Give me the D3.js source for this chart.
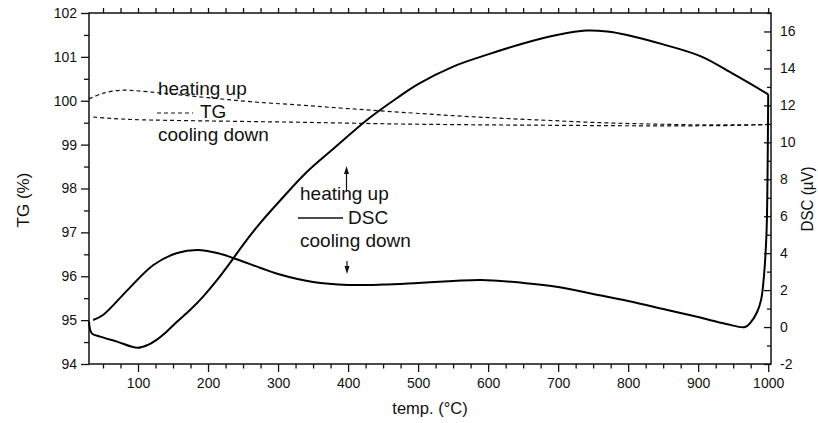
<!DOCTYPE html>
<html>
<head>
<meta charset="utf-8">
<script src="https://cdn.jsdelivr.net/npm/d3@7"></script>
<style>
  html, body { margin: 0; padding: 0; background: #fff; }
  svg { display: block; font-family: "Liberation Sans", Arial, sans-serif; }
  .tick text { font-size: 14px; fill: #111; }
  .tick line { stroke: #111; stroke-width: 1.3; }
</style>
</head>
<body>
<svg id="chart" width="818" height="423"></svg>
<script>
// Temperature axis (°C)
const tempDomain = [30, 1004];
const tempMajorTicks = [100, 200, 300, 400, 500, 600, 700, 800, 900, 1000];
// TG (%) left axis
const tgDomain = [94, 102];
const tgTicks = [94, 95, 96, 97, 98, 99, 100, 101, 102];
// DSC (µV) right axis
const dscDomain = [-2, 17];
const dscTicks = [-2, 0, 2, 4, 6, 8, 10, 12, 14, 16];

// TG, heating up
const tgHeatTemp = [30, 50, 75, 96, 130, 200, 260, 332, 400, 474, 550, 620, 689, 760, 831, 900, 960, 1000];
const tgHeatVal  = [100.04, 100.17, 100.24, 100.23, 100.18, 100.07, 99.98, 99.9, 99.82, 99.74, 99.66, 99.6, 99.55, 99.5, 99.47, 99.45, 99.45, 99.46];
// TG, cooling down
const tgCoolTemp = [36, 60, 96, 200, 332, 474, 600, 700, 800, 904, 960, 1000];
const tgCoolVal  = [99.63, 99.6, 99.57, 99.54, 99.51, 99.47, 99.45, 99.44, 99.43, 99.43, 99.44, 99.46];

// DSC, heating up
const dscHeatTemp = [30, 34, 46, 70, 99, 115, 127, 140, 156, 175, 193, 213, 232, 250, 275, 303, 340, 379, 430, 470, 500, 550, 600, 650, 700, 740, 770, 800, 850, 904, 950, 1000];
const dscHeatVal  = [0.3, -0.34, -0.52, -0.79, -1.12, -0.95, -0.68, -0.28, 0.3, 0.95, 1.65, 2.55, 3.5, 4.45, 5.65, 6.85, 8.35, 9.65, 11.3, 12.4, 13.15, 14.1, 14.76, 15.35, 15.82, 16.05, 16.0, 15.8, 15.3, 14.65, 13.7, 12.6];
// DSC, cooling down
const dscCoolTemp = [36, 50, 85, 122, 156, 185, 213, 236, 275, 300, 350, 400, 450, 500, 550, 590, 650, 700, 750, 800, 850, 900, 940, 967, 975, 984, 990, 994, 997.5, 999, 1000];
const dscCoolVal  = [0.38, 0.65, 2.0, 3.36, 4.01, 4.17, 4.01, 3.74, 3.2, 2.87, 2.44, 2.28, 2.3, 2.39, 2.49, 2.55, 2.39, 2.17, 1.79, 1.41, 0.98, 0.54, 0.17, 0.0, 0.25, 0.8, 1.5, 2.8, 5.0, 8.0, 12.6];

const svg = d3.select("#chart");
const plotLeft = 89, plotRight = 771, plotTop = 13, plotBottom = 364;

const x = d3.scaleLinear().domain(tempDomain).range([plotLeft, plotRight]);
const yTG = d3.scaleLinear().domain(tgDomain).range([plotBottom, plotTop]);
const yDSC = d3.scaleLinear().domain(dscDomain).range([plotBottom, plotTop]);

const minorTemp = d3.range(50, 1001, 25).filter(t => t % 100 !== 0);
const allTemp = d3.range(50, 1001, 25);
const tgMinor = d3.range(94.5, 102, 1);
const dscMinor = d3.range(-1, 17.5, 2);
const plain = d => String(d);

function clean(g) { g.select(".domain").remove(); }

// bottom axis
svg.append("g").attr("transform", `translate(0,${plotBottom})`)
  .call(d3.axisBottom(x).tickValues(tempMajorTicks).tickSize(8).tickPadding(6).tickFormat(plain))
  .call(clean);
svg.append("g").attr("transform", `translate(0,${plotBottom})`)
  .call(d3.axisBottom(x).tickValues(minorTemp).tickSize(4.5).tickFormat(""))
  .call(clean);
// top axis (ticks only)
svg.append("g").attr("transform", `translate(0,${plotTop})`)
  .call(d3.axisTop(x).tickValues(allTemp).tickSize(5).tickFormat(""))
  .call(clean);
// left axis
svg.append("g").attr("transform", `translate(${plotLeft},0)`)
  .call(d3.axisLeft(yTG).tickValues(tgTicks).tickSize(8).tickPadding(4).tickFormat(plain))
  .call(clean);
svg.append("g").attr("transform", `translate(${plotLeft},0)`)
  .call(d3.axisLeft(yTG).tickValues(tgMinor).tickSize(5).tickFormat(""))
  .call(clean);
// right axis, ticks pointing inward
svg.append("g").attr("transform", `translate(${plotRight},0)`)
  .call(d3.axisRight(yDSC).tickValues(dscTicks).tickSize(-7).tickPadding(9).tickFormat(plain))
  .call(clean);
svg.append("g").attr("transform", `translate(${plotRight},0)`)
  .call(d3.axisRight(yDSC).tickValues(dscMinor).tickSize(-4).tickFormat(""))
  .call(clean);

svg.selectAll(".tick text").attr("fill", "#111");

// frame
svg.append("rect")
  .attr("x", plotLeft).attr("y", plotTop)
  .attr("width", plotRight - plotLeft).attr("height", plotBottom - plotTop)
  .attr("fill", "none").attr("stroke", "#111").attr("stroke-width", 1.5);

// axis titles
svg.append("text").attr("x", 430).attr("y", 414).attr("text-anchor", "middle")
  .attr("font-size", 16.5).attr("fill", "#111").text("temp. (°C)");
svg.append("text").attr("transform", "translate(29,200) rotate(-90)").attr("text-anchor", "middle")
  .attr("font-size", 17).attr("fill", "#111").text("TG (%)");
svg.append("text").attr("transform", "translate(813,199) rotate(-90)").attr("text-anchor", "middle")
  .attr("font-size", 17).attr("fill", "#111")
  .attr("textLength", 65).attr("lengthAdjust", "spacingAndGlyphs").text("DSC (µV)");

// curves
const plot = svg.append("g");
function series(temps, vals) { return temps.map((t, i) => [t, vals[i]]); }
const smooth = d3.curveCatmullRom.alpha(0.5);
const tgLine = d3.line().x(d => x(d[0])).y(d => yTG(d[1])).curve(smooth);
const dscLine = d3.line().x(d => x(d[0])).y(d => yDSC(d[1])).curve(smooth);

[series(tgHeatTemp, tgHeatVal), series(tgCoolTemp, tgCoolVal)].forEach(s => {
  plot.append("path").attr("d", tgLine(s)).attr("fill", "none")
    .attr("stroke", "#111").attr("stroke-width", 1.2).attr("stroke-dasharray", "4,3");
});
[series(dscHeatTemp, dscHeatVal), series(dscCoolTemp, dscCoolVal)].forEach(s => {
  plot.append("path").attr("d", dscLine(s)).attr("fill", "none")
    .attr("stroke", "#000").attr("stroke-width", 2).attr("stroke-linejoin", "round");
});

// legends
const lg = svg.append("g").attr("font-size", 19).attr("fill", "#111");
lg.append("text").attr("x", 158).attr("y", 95).text("heating up");
lg.append("line").attr("x1", 157).attr("x2", 193).attr("y1", 113).attr("y2", 113)
  .attr("stroke", "#111").attr("stroke-width", 1.2).attr("stroke-dasharray", "4,3");
lg.append("text").attr("x", 200).attr("y", 118).text("TG");
lg.append("text").attr("x", 158).attr("y", 141).text("cooling down");

lg.append("text").attr("x", 300).attr("y", 200).text("heating up");
lg.append("line").attr("x1", 298).attr("x2", 343).attr("y1", 218).attr("y2", 218)
  .attr("stroke", "#111").attr("stroke-width", 1.3);
lg.append("text").attr("x", 348).attr("y", 224).text("DSC");
lg.append("text").attr("x", 300).attr("y", 247).text("cooling down");

// arrows
lg.append("line").attr("x1", 346.5).attr("x2", 346.5).attr("y1", 192).attr("y2", 172)
  .attr("stroke", "#111").attr("stroke-width", 1.2);
lg.append("path").attr("d", "M346.5,166 L344,174 L349,174 Z").attr("fill", "#111");
lg.append("line").attr("x1", 347).attr("x2", 347).attr("y1", 261).attr("y2", 268)
  .attr("stroke", "#111").attr("stroke-width", 1.2);
lg.append("path").attr("d", "M347,274 L344.5,266 L349.5,266 Z").attr("fill", "#111");
</script>
</body>
</html>
